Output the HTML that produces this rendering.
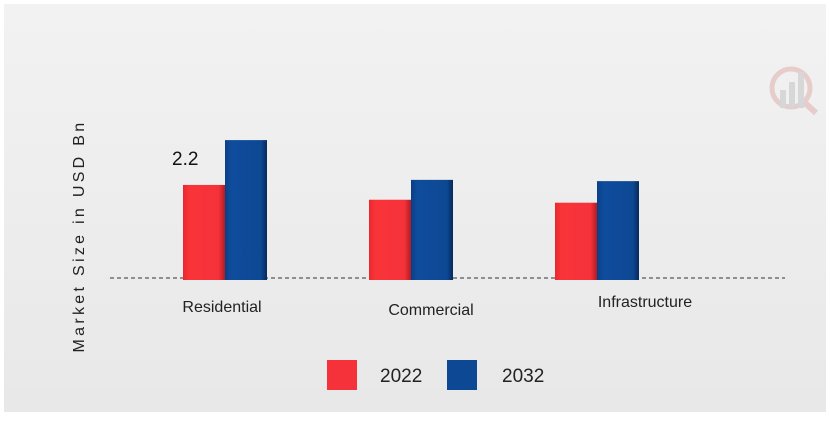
<!DOCTYPE html>
<html><head><meta charset="utf-8"><style>
body{margin:0;width:830px;height:416px;overflow:hidden;background:#fff;font-family:"Liberation Sans",sans-serif}
</style></head><body>
<svg width="830" height="416">
<defs>
<linearGradient id="bg" x1="0" y1="0" x2="0" y2="1"><stop offset="0" stop-color="#f2f2f2"/><stop offset="1" stop-color="#e8e8e8"/></linearGradient>
<linearGradient id="rg" x1="0" y1="0" x2="1" y2="0"><stop offset="0" stop-color="#e8282e"/><stop offset="0.15" stop-color="#f93439"/><stop offset="0.85" stop-color="#f5313a"/><stop offset="1" stop-color="#b01c22"/></linearGradient>
<linearGradient id="bgb" x1="0" y1="0" x2="1" y2="0"><stop offset="0" stop-color="#0a3f88"/><stop offset="0.15" stop-color="#0f4c9c"/><stop offset="0.85" stop-color="#0d4894"/><stop offset="1" stop-color="#062a5c"/></linearGradient>
</defs>
<rect x="4" y="4" width="822" height="408" fill="url(#bg)"/>
<g opacity="0.35">
<circle cx="791" cy="88" r="19" fill="none" stroke="#d98a8a" stroke-width="5"/>
<line x1="804" y1="102" x2="816" y2="113" stroke="#d98a8a" stroke-width="6"/>
<rect x="780" y="90" width="6" height="18" fill="#aaa"/><rect x="789" y="82" width="6" height="26" fill="#aaa"/><rect x="798" y="72" width="6" height="36" fill="#aaa"/>
</g>
<text transform="translate(84,236) rotate(-90)" text-anchor="middle" font-size="16" letter-spacing="3.3" fill="#222">Market Size in USD Bn</text>
<line x1="110" y1="278" x2="785" y2="278" stroke="#333" stroke-dasharray="4,3"/>
<g id="bars"></g>
<g>
<rect x="327" y="360" width="30" height="30" fill="#f5313a"/>
<text x="380" y="382" font-size="19" fill="#222">2022</text>
<rect x="447" y="360" width="30" height="30" fill="#0d4894"/>
<text x="502" y="382" font-size="19" fill="#222">2032</text>
</g>
</svg>
<script>
const categories=["Residential","Commercial","Infrastructure"];
const values2022=[2.2,1.85,1.78];
const values2032=[3.26,2.32,2.29];
const labelYOffsets=[34,37,29];
const labelXShift=[-3,20,48];
const base=278, scale=42.3, bw=42;
const groupX=[183,369,555];
function y(v){return base-v*scale;}
const g=document.getElementById('bars');
const ns="http://www.w3.org/2000/svg";
function bar(x,v,fill,name){
  const r=document.createElementNS(ns,'rect');
  r.setAttribute('x',x);r.setAttribute('y',y(v));r.setAttribute('width',bw);r.setAttribute('height',base+2-y(v));r.setAttribute('fill',fill);
  
  
  g.appendChild(r);
}
categories.forEach((c,i)=>{
  bar(groupX[i],values2022[i],'url(#rg)','bar-2022-'+c.toLowerCase());
  bar(groupX[i]+bw,values2032[i],'url(#bgb)','bar-2032-'+c.toLowerCase());
  const t=document.createElementNS(ns,'text');
  t.setAttribute('x',groupX[i]+bw+labelXShift[i]);t.setAttribute('y',base+labelYOffsets[i]);t.setAttribute('text-anchor','middle');t.setAttribute('font-size','16');t.setAttribute('fill','#222');
  t.textContent=c;
  
  
  g.appendChild(t);
});
const lbl=document.createElementNS(ns,'text');
lbl.setAttribute('x',172);lbl.setAttribute('y',y(values2022[0])-20);lbl.setAttribute('font-size','19');lbl.setAttribute('fill','#111');
lbl.textContent=values2022[0].toFixed(1);


g.appendChild(lbl);
</script>
</body></html>
